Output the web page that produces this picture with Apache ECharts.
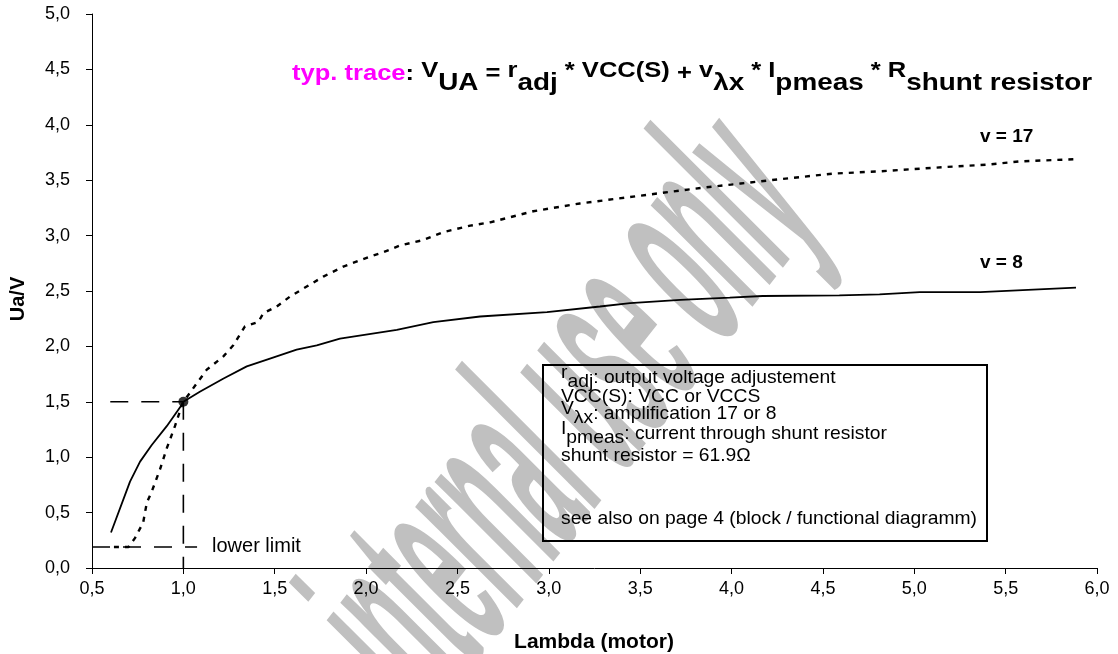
<!DOCTYPE html>
<html>
<head>
<meta charset="utf-8">
<script src="https://cdn.jsdelivr.net/npm/echarts@6/dist/echarts.min.js"></script>
<style>
html,body{margin:0;padding:0;background:#fff;}
#chart{width:1118px;height:654px;}
</style>
</head>
<body>
<div id="chart"></div>
<script>
// ---------- data ----------
const lambdaV8 = [0.604,0.708,0.763,0.827,0.909,0.982,1.0,1.09,1.22,1.347,1.474,1.62,1.73,1.857,2.168,2.368,2.624,2.99,3.28,3.445,3.72,3.99,4.17,4.59,4.81,5.03,5.36,5.885];
const uaV8     = [0.32,0.78,0.96,1.11,1.28,1.45,1.5,1.59,1.71,1.82,1.89,1.97,2.01,2.07,2.15,2.22,2.27,2.31,2.36,2.39,2.42,2.44,2.455,2.46,2.47,2.49,2.49,2.53];

const lambdaV17 = [0.62,0.70,0.735,0.78,0.80,0.827,0.872,0.909,0.954,0.99,1.0,1.128,1.219,1.273,1.337,1.41,1.438,1.511,1.584,1.675,1.766,1.875,2.021,2.094,2.185,2.313,2.42,2.57,2.68,2.915,3.17,3.5,3.83,4.05,4.27,4.56,4.81,5.18,5.40,5.58,5.885];
const uaV17     = [0.19,0.19,0.27,0.41,0.59,0.69,0.89,1.08,1.28,1.46,1.5,1.79,1.91,2.01,2.18,2.22,2.30,2.36,2.45,2.54,2.63,2.72,2.81,2.85,2.91,2.96,3.03,3.09,3.12,3.22,3.29,3.36,3.43,3.47,3.51,3.56,3.58,3.62,3.64,3.67,3.69];

// operating point and guide lines
const opLambda = [1.0];
const opUa     = [1.5];
const guideH15Lambda = [0.6, 1.0];
const guideH15Ua     = [1.5, 1.5];
const guideV1Lambda  = [1.0, 1.0];
const guideV1Ua      = [1.5, 0.0];
const lowerLimitLambda = [0.5, 1.075];
const lowerLimitUa     = [0.19, 0.19];

// axes
const xMin = 0.5, xMax = 6.0, xStep = 0.5;
const yMin = 0.0, yMax = 5.0, yStep = 0.5;

// texts
const xName = 'Lambda (motor)';
const yName = 'Ua/V';
const labelV17 = 'v = 17';
const labelV8 = 'v = 8';
const labelLower = 'lower limit';
const watermarkText = 'internal use only';
const titleParts = [
  ['m','typ. trace'],['c',': '],['b','V'],['s','UA'],['c',' = '],['b','r'],['s','adj'],
  ['b',' * VCC(S) '],['c','+ '],['b','v'],['s','λx'],['b',' * I'],['s','pmeas'],['b',' * R'],['s','shunt resistor']
];
const boxLines = [
  {base:384, parts:[['r','r'],['u','adj'],['n',': output voltage adjustement']]},
  {base:403, parts:[['n','VCC(S): VCC or VCCS']]},
  {base:420, parts:[['r','V'],['u','λx'],['n',': amplification 17 or 8']]},
  {base:440, parts:[['r','I'],['u','pmeas'],['n',': current through shunt resistor']]},
  {base:462, parts:[['n','shunt resistor = 61.9Ω']]},
  {base:525, parts:[['n','see also on page 4 (block / functional diagramm)']]}
];

// ---------- helpers ----------
const FONT = "'Liberation Sans', Arial, Helvetica, sans-serif";
const ctx = document.createElement('canvas').getContext('2d');
function tw(text, size, weight){ ctx.font = (weight||'normal') + ' ' + size + 'px ' + FONT; return ctx.measureText(text).width; }
function zip(a,b){ return a.map((v,i)=>[v,b[i]]); }
const fmt = v => v.toFixed(1).replace('.', ',');
const MID = 0.3465; // canvas 'middle' baseline offset (em) for Liberation Sans

// rich text builder. styles: {size, weight, fill, dy}; dy = baseline offset (px) from the base baseline
function buildRich(parts, styles, baseSize){
  const rich = {};
  let width = 0;
  Object.keys(styles).forEach(k=>{
    const s = styles[k];
    const d = s.dy + MID*(baseSize - s.size);   // shift of the token middle
    const pad = d >= 0 ? [2*d,0,0,0] : [0,0,-2*d,0];
    rich[k] = {fontFamily:FONT, fontSize:s.size, fontWeight:s.weight, fill:s.fill, padding:pad};
  });
  parts.forEach(p=>{ const s = styles[p[0]]; width += tw(p[1], s.size, s.weight); });
  const text = parts.map(p=>'{'+p[0]+'|'+p[1]+'}').join('');
  return {text, rich, width};
}

// ---------- title ----------
const TITLE_BASE_SIZE = 22;
const titleStyles = {
  m:{size:22, weight:'bold', fill:'#ff00ff', dy:0},
  c:{size:22, weight:'bold', fill:'#000000', dy:0},
  b:{size:22, weight:'bold', fill:'#000000', dy:-3},
  s:{size:24, weight:'bold', fill:'#000000', dy:10}
};
const titleRich = buildRich(titleParts, titleStyles, TITLE_BASE_SIZE);
const titleLeft = 292, titleRight = 1092, titleBase = 82;
const titleScale = (titleRight - titleLeft) / titleRich.width;

// ---------- box ----------
const BOX_BASE_SIZE = 19;
const boxStyles = {
  n:{size:19, weight:'normal', fill:'#000', dy:0},
  r:{size:19, weight:'normal', fill:'#000', dy:-5},
  u:{size:19, weight:'normal', fill:'#000', dy:4}
};
const boxBuilt = boxLines.map(l=>buildRich(l.parts, boxStyles, BOX_BASE_SIZE));
const boxScale = 416 / boxBuilt[boxBuilt.length-1].width;

// ---------- watermark geometry (slanted text, strokes at 45 deg) ----------
const WM_ROT = 52 * Math.PI / 180;
const WM_SKEW = -7 * Math.PI / 180;
const WM_SIZE = 270;

const graphics = [];
graphics.push({
  type:'text', x:768, y:166, rotation:WM_ROT, skewX:WM_SKEW, scaleX:0.30, scaleY:1, z:0, silent:true,
  style:{text:watermarkText, fontFamily:FONT, fontWeight:'bold', fontSize:WM_SIZE, fill:'#c0c0c0',
         align:'right', verticalAlign:'middle'}
});
// title
graphics.push({
  type:'text', x:titleLeft, y:titleBase - MID*TITLE_BASE_SIZE, scaleX:titleScale, z:100,
  style:{text:titleRich.text, rich:titleRich.rich, align:'left', verticalAlign:'middle'}
});
// annotation box
graphics.push({type:'rect', z:100, shape:{x:543, y:365, width:444, height:176},
  style:{fill:null, stroke:'#000', lineWidth:2}});
boxBuilt.forEach((b,i)=>{
  graphics.push({type:'text', x:561, y:boxLines[i].base - MID*BOX_BASE_SIZE, scaleX:boxScale, z:100,
    style:{text:b.text, rich:b.rich, align:'left', verticalAlign:'middle'}});
});
// curve labels
graphics.push({type:'text', x:980, y:136.5, z:100,
  style:{text:labelV17, fontFamily:FONT, fontWeight:'bold', fontSize:19, fill:'#000', align:'left', verticalAlign:'middle'}});
graphics.push({type:'text', x:980, y:262.5, z:100,
  style:{text:labelV8, fontFamily:FONT, fontWeight:'bold', fontSize:19, fill:'#000', align:'left', verticalAlign:'middle'}});
graphics.push({type:'text', x:212, y:546, z:100,
  style:{text:labelLower, fontFamily:FONT, fontSize:20, fill:'#000', align:'left', verticalAlign:'middle'}});
// axis names
graphics.push({type:'text', x:594, y:642, z:100,
  style:{text:xName, fontFamily:FONT, fontWeight:'bold', fontSize:21, fill:'#000', align:'center', verticalAlign:'middle'}});
graphics.push({type:'text', x:18, y:299, rotation:Math.PI/2, z:100,
  style:{text:yName, fontFamily:FONT, fontWeight:'bold', fontSize:20, fill:'#000', align:'center', verticalAlign:'middle'}});

const guideStyle = {color:'#000', width:1.6, type:[18,13]};

const option = {
  animation:false,
  backgroundColor:'#ffffff',
  grid:{left:92, right:21, top:14, bottom:86, containLabel:false},
  xAxis:{
    type:'value', min:xMin, max:xMax, interval:xStep,
    axisLine:{show:true, onZero:false, lineStyle:{color:'#000', width:1}},
    axisTick:{show:true, inside:false, length:6, lineStyle:{color:'#000', width:1}},
    splitLine:{show:false},
    axisLabel:{formatter:fmt, color:'#000', fontSize:18, fontFamily:FONT, margin:12, showMinLabel:true, showMaxLabel:true}
  },
  yAxis:{
    type:'value', min:yMin, max:yMax, interval:yStep,
    axisLine:{show:true, onZero:false, lineStyle:{color:'#000', width:1}},
    axisTick:{show:true, inside:false, length:6, lineStyle:{color:'#000', width:1}},
    splitLine:{show:false},
    axisLabel:{formatter:fmt, color:'#000', fontSize:18, fontFamily:FONT, margin:22, showMinLabel:true, showMaxLabel:true}
  },
  graphic:{elements:graphics},
  series:[
    {name:'v = 8', type:'line', data:zip(lambdaV8, uaV8), showSymbol:false, symbol:'none',
     lineStyle:{color:'#000', width:1.8}, z:5},
    {name:'v = 17', type:'line', data:zip(lambdaV17, uaV17), showSymbol:false, symbol:'none',
     lineStyle:{color:'#000', width:2.4, type:[5,6]}, z:5},
    {name:'guide 1.5', type:'line', data:zip(guideH15Lambda, guideH15Ua), symbol:'none', lineStyle:guideStyle, z:4},
    {name:'guide lambda 1', type:'line', data:zip(guideV1Lambda, guideV1Ua), symbol:'none', lineStyle:guideStyle, z:4},
    {name:'lower limit', type:'line', data:zip(lowerLimitLambda, lowerLimitUa), symbol:'none', lineStyle:guideStyle, z:4},
    {name:'operating point', type:'scatter', data:zip(opLambda, opUa), symbol:'circle', symbolSize:10,
     itemStyle:{color:'#000'}, z:6}
  ]
};
const chart = echarts.init(document.getElementById('chart'), null, {renderer:'canvas'});
chart.setOption(option);
</script>
</body>
</html>
